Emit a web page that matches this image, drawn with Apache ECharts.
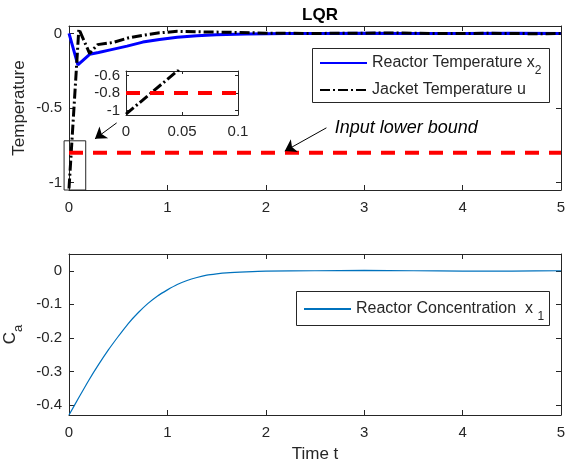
<!DOCTYPE html>
<html>
<head>
<meta charset="utf-8">
<script src="https://cdn.jsdelivr.net/npm/echarts@6/dist/echarts.min.js"></script>
<style>
html,body{margin:0;padding:0;background:#fff;}
#main{width:565px;height:470px;}
</style>
</head>
<body>
<div id="main"></div>
<script>
// reactor temperature x2
var tX2 = [0, 0.09, 0.21, 0.3, 0.42, 0.59, 0.75, 0.92, 1.1, 1.3, 1.5, 1.8, 2.2, 2.6, 3, 3.5, 4, 4.5, 5];
var x2Vals = [0, -0.21, -0.14, -0.128, -0.11, -0.085, -0.058, -0.04, -0.026, -0.015, -0.008, -0.003, -0.001, 0, 0.001, -0.001, 0, 0.001, 0];
// jacket temperature u
var tU = [0, 0.1, 0.21, 0.29, 0.45, 0.6, 0.75, 0.92, 1.1, 1.4, 1.7, 2.0, 2.4, 2.8, 3.3, 3.8, 4.3, 4.8, 5];
var uVals = [-1.04, 0.03, -0.135, -0.075, -0.06, -0.03, -0.012, 0.004, 0.014, 0.01, 0.007, 0.002, 0, 0.001, 0.003, -0.001, 0.001, -0.002, 0];
// reactor concentration x1
var tX1 = [0, 0.1, 0.2, 0.3, 0.4, 0.5, 0.6, 0.7, 0.8, 0.9, 1.0, 1.1, 1.2, 1.3, 1.4, 1.5, 1.6, 1.8, 2.0, 2.5, 3, 3.5, 4, 4.5, 5];
var x1Vals = [-0.43, -0.378, -0.327, -0.28, -0.236, -0.196, -0.158, -0.126, -0.098, -0.075, -0.057, -0.041, -0.029, -0.02, -0.013, -0.009, -0.006, -0.003, -0.001, 0, 0.001, 0, -0.001, -0.001, 0];
// input lower bound
var tBound = [0, 5];
var boundVals = [-0.8, -0.8];

var xTicks = [0, 1, 2, 3, 4, 5];
var tempTicks = [-1, -0.5, 0];
var caTicks = [-0.4, -0.3, -0.2, -0.1, 0];
var insetXTicks = [0, 0.05, 0.1];
var insetYTicks = [-1, -0.8, -0.6];

var FONT = 'Liberation Sans, Arial, sans-serif';
var AX = '#262626';

function pairs(xs, ys) {
    var out = [];
    for (var i = 0; i < xs.length; i++) out.push([xs[i], ys[i]]);
    return out;
}

function xAx(gi, pos, min, max, interval, showLabel, tickLen) {
    return {
        type: 'value', gridIndex: gi, position: pos, min: min, max: max, interval: interval,
        axisLine: {show: true, onZero: false, lineStyle: {color: AX, width: 1}},
        axisTick: {show: true, inside: true, length: tickLen, lineStyle: {color: AX}},
        axisLabel: {show: showLabel, margin: 10, fontSize: 15, color: AX, fontFamily: FONT},
        splitLine: {show: false}
    };
}

function yAx(gi, pos, min, max, ticks, showLabel, tickLen) {
    return {
        type: 'value', gridIndex: gi, position: pos, min: min, max: max,
        axisLine: {show: true, onZero: false, lineStyle: {color: AX, width: 1}},
        axisTick: {show: true, inside: true, length: tickLen, customValues: ticks, lineStyle: {color: AX}},
        axisLabel: {show: showLabel, margin: 7, fontSize: 15, color: AX, fontFamily: FONT, customValues: ticks},
        splitLine: {show: false}
    };
}

var legendNames = {
    x2: '{m|Reactor Temperature x}{s|2}',
    u: '{m|Jacket Temperature u}',
    x1: '{m|Reactor Concentration  x }{s|1}'
};
var legendRich = {
    m: {fontSize: 16, fontFamily: FONT, color: AX, padding: [6, 0, 6, 0], verticalAlign: 'bottom'},
    s: {fontSize: 12, lineHeight: 12, fontFamily: FONT, color: AX, verticalAlign: 'bottom'}
};

var myChart = echarts.init(document.getElementById('main'));

var xAxes = [
    xAx(0, 'bottom', 0, 5, 1, true, 5),
    xAx(0, 'top', 0, 5, 1, false, 5),
    xAx(1, 'bottom', 0, 5, 1, true, 5),
    xAx(1, 'top', 0, 5, 1, false, 5),
    xAx(2, 'bottom', 0, 0.1, 0.05, true, 3),
    xAx(2, 'top', 0, 0.1, 0.05, false, 3)
];
xAxes[2].name = 'Time t';
xAxes[2].nameLocation = 'middle';
xAxes[2].nameGap = 31;
xAxes[2].nameMoveOverlap = false;
xAxes[2].nameTextStyle = {fontSize: 17, color: AX, fontFamily: FONT};
xAxes[4].axisLabel.margin = 9;
xAxes[4].z = 6;
xAxes[5].z = 6;

var yAxes = [
    yAx(0, 'left', -1.05, 0.05, tempTicks, true, 5),
    yAx(0, 'right', -1.05, 0.05, tempTicks, false, 5),
    yAx(1, 'left', -0.43, 0.05, caTicks, true, 5),
    yAx(1, 'right', -0.43, 0.05, caTicks, false, 5),
    yAx(2, 'left', -1.05, -0.55, insetYTicks, true, 3),
    yAx(2, 'right', -1.05, -0.55, insetYTicks, false, 3)
];
yAxes[0].name = 'Temperature';
yAxes[0].nameLocation = 'middle';
yAxes[0].nameGap = 41;
yAxes[0].nameMoveOverlap = false;
yAxes[0].nameTextStyle = {fontSize: 17, color: AX, fontFamily: FONT};
yAxes[2].name = '{m|C}{s|a}';
yAxes[2].nameLocation = 'middle';
yAxes[2].nameGap = 44;
yAxes[2].nameMoveOverlap = false;
yAxes[2].nameTextStyle = {
    rich: {
        m: {fontSize: 17, color: AX, fontFamily: FONT, padding: [0, 0, 6, 0], verticalAlign: 'bottom'},
        s: {fontSize: 13, lineHeight: 13, color: AX, fontFamily: FONT, verticalAlign: 'bottom'}
    }
};
yAxes[4].axisLabel.margin = 6;
yAxes[4].z = 6;
yAxes[5].z = 6;

var uStyle = {color: '#000', width: 3, type: [10, 3, 2, 3]};
var boundStyle = {color: '#ff0000', width: 4, type: [14, 10]};
var hideSymbol = {color: 'rgba(0,0,0,0)', borderWidth: 0, opacity: 0};

var option = {
    animation: false,
    backgroundColor: '#fff',
    title: {
        text: 'LQR', left: 315, top: 2, textAlign: 'center',
        textStyle: {fontSize: 17, fontWeight: 'bold', color: '#000', fontFamily: FONT}
    },
    grid: [
        {left: 69, top: 26, width: 492, height: 164, containLabel: false, outerBoundsMode: 'none'},
        {left: 69, top: 254, width: 492, height: 161, containLabel: false, outerBoundsMode: 'none'},
        {left: 126, top: 71, width: 112, height: 44, containLabel: false, outerBoundsMode: 'none',
            show: true, backgroundColor: '#fff', borderWidth: 0, z: 5}
    ],
    legend: [
        {
            data: ['x2', 'u'], orient: 'vertical', left: 319, top: 55, padding: 0, itemGap: 5,
            itemWidth: 47, itemHeight: 14, selectedMode: false, itemStyle: hideSymbol,
            formatter: function (name) { return legendNames[name]; },
            textStyle: {rich: legendRich}
        },
        {
            data: ['x1'], orient: 'vertical', left: 303, top: 301, padding: 0,
            itemWidth: 47, itemHeight: 14, selectedMode: false, itemStyle: hideSymbol,
            formatter: function (name) { return legendNames[name]; },
            textStyle: {rich: legendRich}
        }
    ],
    xAxis: xAxes,
    yAxis: yAxes,
    series: [
        {
            name: 'x2', type: 'line', xAxisIndex: 0, yAxisIndex: 0, symbol: 'none',
            data: pairs(tX2, x2Vals), lineStyle: {color: '#0000ff', width: 3}, itemStyle: {color: '#0000ff'}
        },
        {
            name: 'u', type: 'line', xAxisIndex: 0, yAxisIndex: 0, symbol: 'none',
            data: pairs(tU, uVals), lineStyle: uStyle, itemStyle: {color: '#000'}
        },
        {
            name: 'bound', type: 'line', xAxisIndex: 0, yAxisIndex: 0, symbol: 'none',
            data: pairs(tBound, boundVals), lineStyle: boundStyle, itemStyle: {color: '#ff0000'},
            markLine: {
                silent: true, symbol: ['none', 'arrow'], symbolSize: 11,
                label: {show: false},
                lineStyle: {color: '#000', width: 1, type: 'solid'},
                data: [
                    [{coord: [0.484, -0.6]}, {coord: [0.264, -0.707]}],
                    [{coord: [2.616, -0.633]}, {coord: [2.193, -0.789]}]
                ]
            }
        },
        {
            name: 'u inset', type: 'line', xAxisIndex: 4, yAxisIndex: 4, symbol: 'none', z: 6,
            data: pairs(tU, uVals), lineStyle: uStyle
        },
        {
            name: 'bound inset', type: 'line', xAxisIndex: 4, yAxisIndex: 4, symbol: 'none', z: 6,
            data: pairs(tBound, boundVals), lineStyle: boundStyle
        },
        {
            name: 'x1', type: 'line', xAxisIndex: 2, yAxisIndex: 2, symbol: 'none', smooth: 0.2,
            data: pairs(tX1, x1Vals), lineStyle: {color: '#0072bd', width: 1.2}, itemStyle: {color: '#0072bd'}
        }
    ]
};

myChart.setOption(option);

// zoom box, text and legend frames
var p = function (pt) { return myChart.convertToPixel({gridIndex: 0}, pt); };
var r1 = p([-0.05, -0.72]), r2 = p([0.17, -1.05]);
var txt = p([2.7, -0.633]);
myChart.setOption({
    graphic: [
        {type: 'rect', z: 10, shape: {x: r1[0], y: r1[1], width: r2[0] - r1[0], height: r2[1] - r1[1]},
            style: {fill: 'none', stroke: AX, lineWidth: 1}},
        {type: 'text', z: 10, x: txt[0], y: txt[1],
            style: {text: 'Input lower bound', font: 'italic 18px Liberation Sans', fill: '#000', verticalAlign: 'middle'}},
        {type: 'rect', z: 10, shape: {x: 312.5, y: 48.5, width: 237, height: 54},
            style: {fill: 'none', stroke: AX, lineWidth: 1}},
        {type: 'rect', z: 10, shape: {x: 296.5, y: 291.5, width: 253, height: 34},
            style: {fill: 'none', stroke: AX, lineWidth: 1}}
    ]
});
</script>
</body>
</html>
